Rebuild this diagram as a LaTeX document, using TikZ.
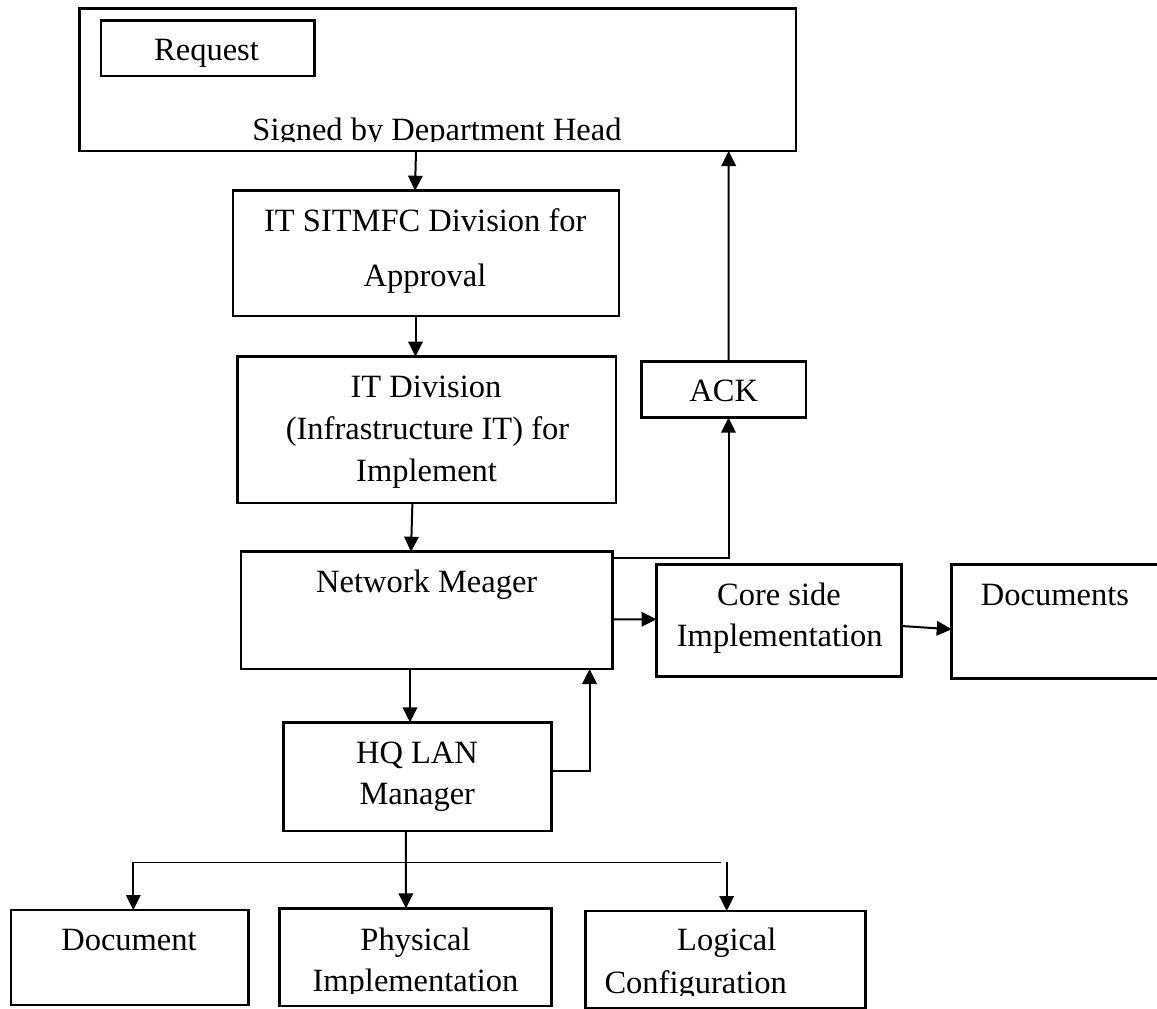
\documentclass[tikz,border=0pt]{standalone}
\usepackage{fontspec}
\setmainfont{Liberation Serif}
\usetikzlibrary{arrows.meta}
\begin{document}
\begin{tikzpicture}[x=1pt,y=-1pt,
  box/.style={draw, line width=2.6pt, inner sep=0pt, outer sep=0pt, rectangle},
  txt/.style={anchor=base, inner sep=0pt, outer sep=0pt, font=\fontsize{32.5}{38}\selectfont},
  conn/.style={line width=2pt},
  arr/.style={line width=2pt, -{Triangle[length=15pt,width=14.5pt]}},
  thinline/.style={line width=1.3pt}]
\useasboundingbox[fill=white] (0,0) rectangle (1157,1009);

% boxes
\node[box, minimum width=716.4pt, minimum height=142.7pt] (signed) at (437.6,79.65) {};
\node[box, minimum width=213.5pt, minimum height=55.3pt] (request) at (207.75,48.35) {};
\node[box, minimum width=386.2pt, minimum height=125.3pt] (sit) at (425.9,253.35) {};
\node[box, minimum width=378.4pt, minimum height=146.3pt] (itdiv) at (426.8,429.85) {};
\node[box, minimum width=164.4pt, minimum height=56pt] (ack) at (723.8,389.7) {};
\node[box, minimum width=371.6pt, minimum height=117.3pt] (net) at (426.8,610.35) {};
\node[box, minimum width=245pt, minimum height=112.4pt] (core) at (779,620.5) {};
\node[box, minimum width=223.3pt, minimum height=114.4pt] (docs) at (1063.35,621.5) {};
\node[box, minimum width=267.7pt, minimum height=108.7pt] (hq) at (417.35,776.65) {};
\node[box, minimum width=237.4pt, minimum height=95pt] (document) at (129.7,957.5) {};
\node[box, minimum width=271.5pt, minimum height=97.7pt] (physical) at (415.45,957.15) {};
\node[box, minimum width=280pt, minimum height=97.3pt] (logical) at (725.7,959.65) {};

% texts
\node[txt] (requestT) at (206.5,60) {Request};
\begin{scope}
  \clip (80,100) rectangle (795,141);
  \node[txt] (signedT) at (437,140) {Signed by Department Head};
\end{scope}
\node[txt] (sitT1) at (425.3,231.7) {IT SITMFC Division for};
\node[txt] (sitT2) at (425,286.7) {Approval};
\node[txt] (itdivT1) at (426,397) {IT Division};
\node[txt] (itdivT2) at (427.5,439) {(Infrastructure IT) for};
\node[txt] (itdivT3) at (426.6,481.7) {Implement};
\node[txt] (ackT) at (723.7,401.7) {ACK};
\node[txt] (netT) at (426.7,592.7) {Network Meager};
\node[txt] (coreT1) at (779,605.7) {Core side};
\node[txt] (coreT2) at (779.8,646.7) {Implementation};
\node[txt] (docsT) at (1055,605) {Documents};
\node[txt] (hqT1) at (417,763.3) {HQ LAN};
\node[txt] (hqT2) at (417.3,804.3) {Manager};
\node[txt] (documentT) at (129,950.7) {Document};
\node[txt] (physicalT1) at (415.5,950) {Physical};
\begin{scope}
  \clip (282,960) rectangle (549,993.5);
  \node[txt] (physicalT2) at (415.5,991.5) {Implementation};
\end{scope}
\node[txt] (logicalT1) at (726.8,950.7) {Logical};
\begin{scope}
  \clip (588,960) rectangle (864,995);
  \node[txt] (logicalT2) at (695.7,993.3) {Configuration};
\end{scope}

% connectors
\draw[arr] ([xshift=-21.6pt]signed.south) -- ([xshift=-10.9pt]sit.north);
\draw[arr] ([xshift=-10.4pt]sit.south) -- ([xshift=-11.3pt]itdiv.north);
\draw[arr] ([xshift=-14.4pt]itdiv.south) -- ([xshift=-15.8pt]net.north);
\draw[arr] ([yshift=52pt]net.east) -| ([xshift=4.7pt]ack.south);
\draw[arr] ([xshift=4.9pt]ack.north) -- ([xshift=291.1pt]signed.south);
\draw[arr] ([yshift=-9pt]net.east) -- ([yshift=1.2pt]core.west);
\draw[arr] ([yshift=-5.5pt]core.east) -- ([yshift=-7.8pt]docs.west);
\draw[arr] ([xshift=-16.8pt]net.south) -- ([xshift=-7.35pt]hq.north);
\draw[arr] ([yshift=5.65pt]hq.east) -| ([xshift=162.8pt]net.south);
\draw[arr] ([xshift=-11.45pt]hq.south) -- ([xshift=-9.55pt]physical.north);

\coordinate (brL) at (133.3,862.7);
\coordinate (brR) at (721.2,862.7);
\coordinate (brR2) at (726.7,862.7);
\draw[thinline] (brL) -- (brR);
\draw[arr] ([yshift=0.6pt]brL) -- ([xshift=3.6pt]document.north);
\draw[arr] ([yshift=0.6pt]brR2) -- ([xshift=1pt]logical.north);
\end{tikzpicture}
\end{document}
